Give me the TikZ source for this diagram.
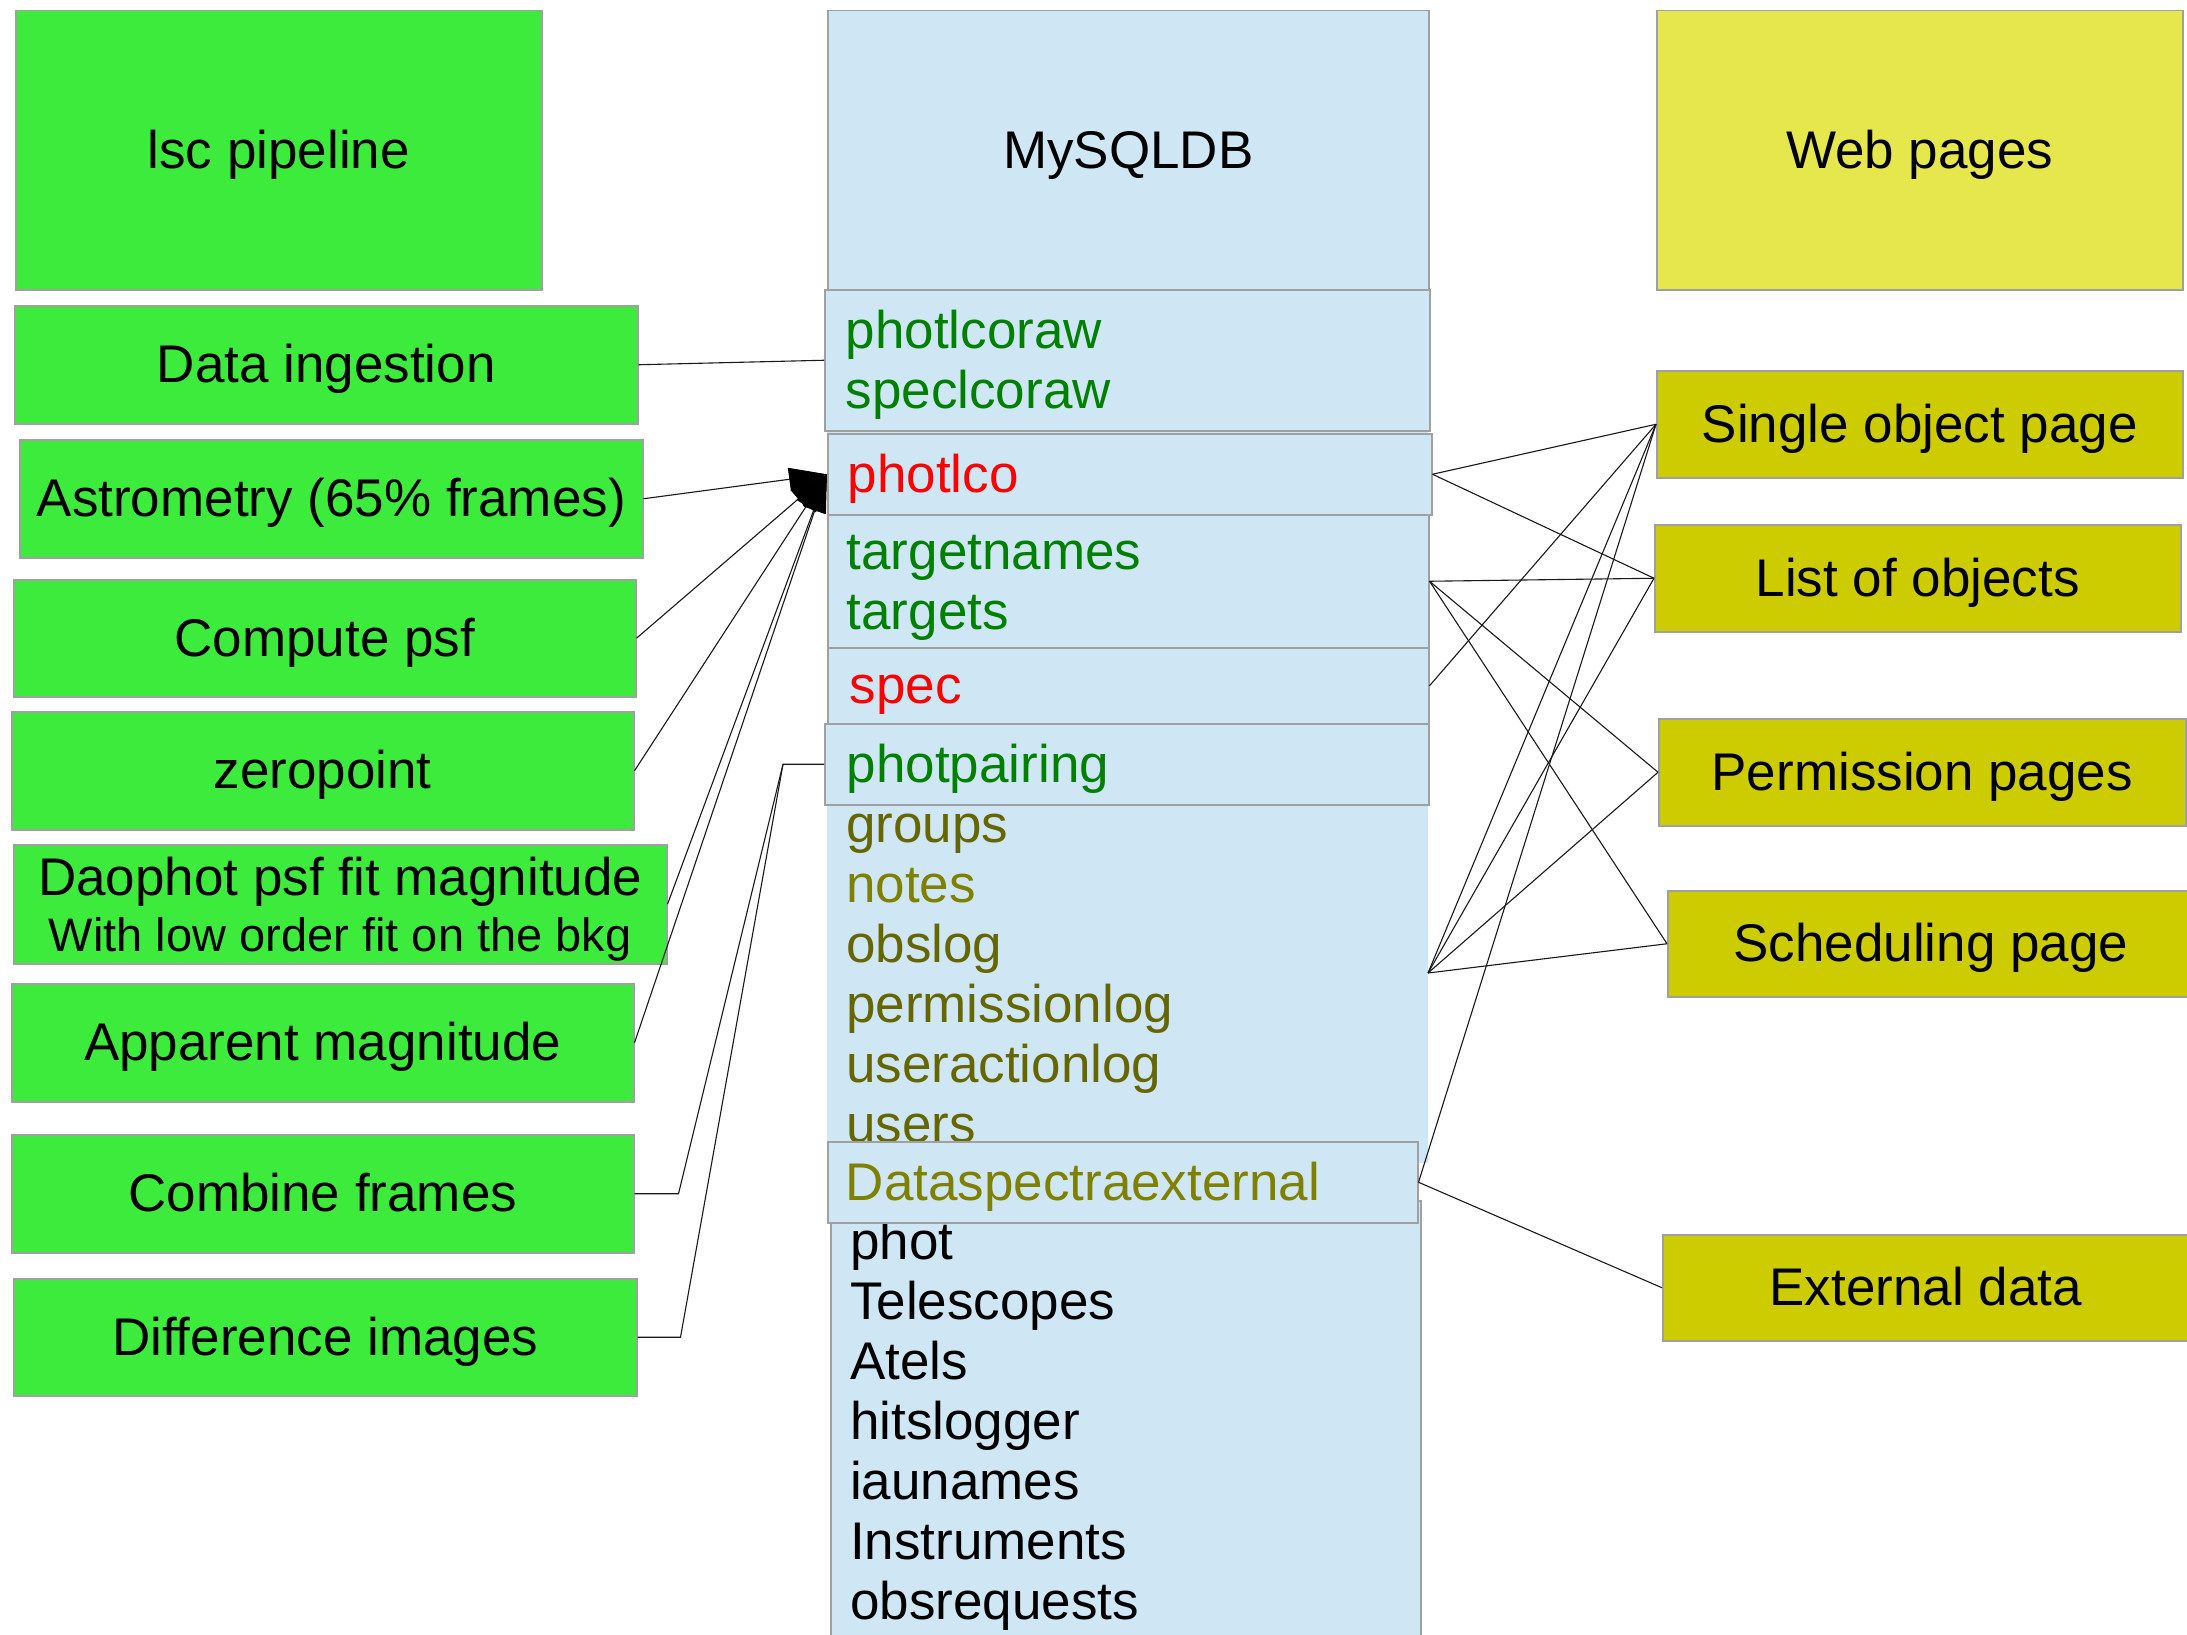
\documentclass[tikz,border=0pt]{standalone}
\usepackage{fontspec}
\setmainfont{Liberation Sans}
\usetikzlibrary{arrows.meta}

\definecolor{pipegreen}{RGB}{61,235,61}
\definecolor{dbblue}{RGB}{207,231,245}
\definecolor{webyellow}{RGB}{230,230,77}
\definecolor{pageyellow}{RGB}{204,204,0}
\definecolor{edgegray}{RGB}{160,160,160}
\definecolor{tblgreen}{RGB}{0,128,0}
\definecolor{tblred}{RGB}{255,0,0}
\definecolor{tblolive}{RGB}{102,102,0}
\definecolor{tbllight}{RGB}{128,128,0}

\newcommand\bigfont{\fontsize{53}{60}\selectfont}
% strut giving every line the same ascent/descent
\newcommand\ls{\rule[-12pt]{0pt}{60pt}}

\tikzset{
  box/.style={rectangle, draw=edgegray, line width=1.5pt, inner sep=0pt,
              anchor=north west, font=\bigfont, align=center},
  gbox/.style={box, fill=pipegreen},
  ybox/.style={box, fill=pageyellow},
  dbbox/.style={box, fill=dbblue},
  row/.style={dbbox, align=left},
  conn/.style={draw=black!90, line width=1.1pt},
  arw/.style={conn, -{Triangle[length=38pt,width=23pt,color=black,fill=black]}},
  tlist/.style={inner sep=0pt, anchor=north west, font=\bigfont, align=left}
}

\begin{document}
\begin{tikzpicture}[x=1pt, y=-1pt]
\useasboundingbox (0,0) rectangle (2187,1635);
\fill[white] (0,0) rectangle (2187,1635);
\clip (0,0) rectangle (2187,1635);

% ---------------- pipeline column ----------------
\node[gbox, minimum width=526pt, minimum height=279pt] (lsc) at (15,10) {\ls lsc pipeline};
\node[gbox, minimum width=623pt, minimum height=118pt] (ingest) at (14,305) {\ls Data ingestion};
\node[gbox, minimum width=623pt, minimum height=118pt] (astro) at (19,439) {\ls Astrometry (65\% frames)};
\node[gbox, minimum width=622pt, minimum height=117pt] (psf) at (13,579) {\ls Compute psf};
\node[gbox, minimum width=622pt, minimum height=118pt] (zero) at (11,711) {\ls zeropoint};
\node[gbox, minimum width=653pt, minimum height=119pt] (dao) at (13,844)
  {\ls Daophot psf fit magnitude\\[-4pt]
   \fontsize{47}{54}\selectfont\rule[-10pt]{0pt}{48.5pt}With low order fit on the bkg};
\node[gbox, minimum width=622pt, minimum height=118pt] (appmag) at (11,983) {\ls Apparent magnitude};
\node[gbox, minimum width=622pt, minimum height=118pt] (combine) at (11,1134) {\ls Combine frames};
\node[gbox, minimum width=623pt, minimum height=117pt] (diff) at (13,1278) {\ls Difference images};

% ---------------- database column ----------------
\node[rectangle, fill=dbblue, inner sep=0pt, anchor=north west,
      minimum width=601pt, minimum height=1153pt] (colbg) at (827,10) {};
\node[dbbox, minimum width=601pt, minimum height=279pt] (mysql) at (827,10) {\ls MySQLDB};
\node[row, text=tblgreen, minimum height=141pt, text width=563pt, inner xsep=21pt] (raw) at (824,289)
  {\ls photlcoraw\\\ls speclcoraw};
\node[row, text=tblred, minimum height=81pt, text width=564pt, inner xsep=20pt] (photlco) at (827,433)
  {\ls photlco};
\node[row, text=tblgreen, minimum height=133pt, text width=563pt, inner xsep=19pt] (targets) at (827,514)
  {\ls targetnames\\\ls targets};
\node[row, text=tblred, minimum height=76pt, text width=557pt, inner xsep=22pt] (spec) at (827,647)
  {\ls spec};
\node[row, text=tblgreen, minimum height=81pt, text width=560pt, inner xsep=22pt] (pairing) at (824,723)
  {\ls photpairing};
\node[tlist, text=tblolive] (logs) at (846,794)
  {\ls groups\\\ls {\color{tbllight}notes}\\\ls obslog\\\ls permissionlog\\\ls useractionlog\\\ls users};
\node[dbbox, minimum width=590pt, minimum height=500pt] (lower) at (830,1200) {};
\node[tlist] (misc) at (850,1211)
  {\ls phot\\\ls Telescopes\\\ls Atels\\\ls hitslogger\\\ls iaunames\\\ls Instruments\\\ls obsrequests};
\node[row, text=tbllight, minimum height=81pt, text width=554pt, inner xsep=18pt] (datasp) at (827,1141)
  {\ls Dataspectraexternal};
\coordinate (logp) at (1428,973);

% ---------------- web column ----------------
\node[box, fill=webyellow, minimum width=526pt, minimum height=279pt] (web) at (1656,10) {\ls Web pages};
\node[ybox, minimum width=526pt, minimum height=107pt] (single) at (1656,370) {\ls Single object page};
\node[ybox, minimum width=526pt, minimum height=107pt] (list) at (1654,524) {\ls List of objects};
\node[ybox, minimum width=527pt, minimum height=107pt] (perm) at (1658,718) {\ls Permission pages};
\node[ybox, minimum width=526pt, minimum height=106pt] (sched) at (1667,890) {\ls Scheduling page};
\node[ybox, minimum width=526pt, minimum height=106pt] (ext) at (1662,1234) {\ls External data};

% ---------------- pipeline -> database ----------------
\draw[conn] (ingest.east) -- (raw.west);
\draw[arw] (astro.east) -- (photlco.west);
\draw[arw] (psf.east) -- (photlco.west);
\draw[arw] (zero.east) -- (photlco.west);
\draw[arw] (dao.east) -- (photlco.west);
\draw[arw] (appmag.east) -- (photlco.west);
\coordinate (pj) at ([xshift=-41pt]pairing.west);
\draw[conn] (combine.east) -- ++(44,0) -- (pj) -- (pairing.west);
\draw[conn] (diff.east) -- ++(43,0) -- (pj);

% ---------------- database -> web pages ----------------
\draw[conn] (photlco.east) -- (single.west);
\draw[conn] (photlco.east) -- (list.west);
\draw[conn] (targets.east) -- (list.west);
\draw[conn] (targets.east) -- (perm.west);
\draw[conn] (targets.east) -- (sched.west);
\draw[conn] (spec.east) -- (single.west);
\draw[conn] (logp) -- (single.west);
\draw[conn] (logp) -- (list.west);
\draw[conn] (logp) -- (perm.west);
\draw[conn] (logp) -- (sched.west);
\draw[conn] (datasp.east) -- (single.west);
\draw[conn] (datasp.east) -- (ext.west);
\end{tikzpicture}
\end{document}
